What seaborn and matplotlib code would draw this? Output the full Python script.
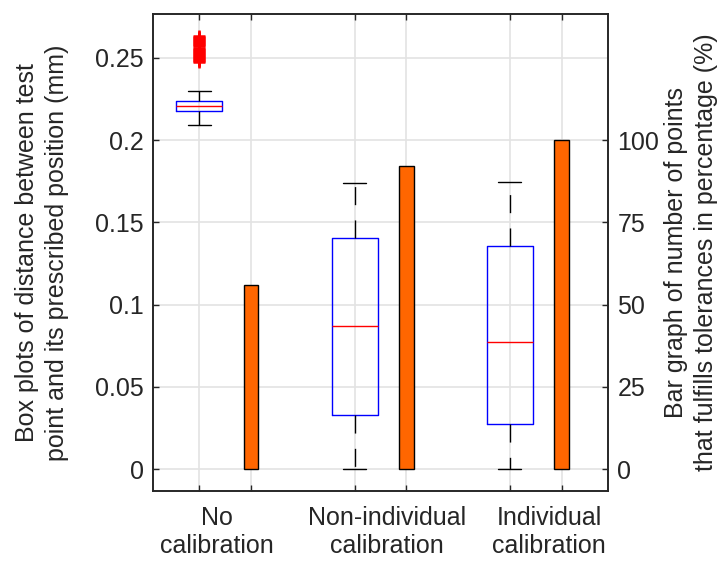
import matplotlib
matplotlib.use("Agg")
import matplotlib.pyplot as plt
from matplotlib.ticker import FixedLocator, FixedFormatter, NullFormatter, FuncFormatter
import pandas as pd
import seaborn as sns

# %% data

categories = ["No\ncalibration", "Non-individual\ncalibration", "Individual\ncalibration"]

# box plot statistics, distance test point -> prescribed position (mm)
whisker_lo = [0.2095, 0.0, 0.0]
quartile_1 = [0.2176, 0.0327, 0.0276]
medians = [0.2205, 0.0869, 0.0771]
quartile_3 = [0.2241, 0.1403, 0.1358]
whisker_hi = [0.2296, 0.1740, 0.1747]

# outliers of the "No calibration" box
outliers_no_cal = [0.2477, 0.2482, 0.2489, 0.2494, 0.2501, 0.2508, 0.2513, 0.2519,
                   0.2526, 0.2531, 0.2538, 0.2544, 0.2549, 0.2557, 0.2563, 0.2570,
                   0.2576, 0.2584, 0.2590, 0.2596, 0.2603, 0.2607, 0.2614, 0.2619,
                   0.2626, 0.2632]

# share of points within tolerance (%)
pct_in_tolerance = [56, 92, 100]

# %% layout

box_pos = [1, 4, 7]
bar_pos = [2, 5, 8]
label_pos = [1.34, 4.63, 7.76]

sns.set_style("ticks")
plt.rcParams["font.family"] = ["Liberation Sans", "DejaVu Sans"]
dark = "#262626"
fs = 18

fig = plt.figure(figsize=(7.21, 5.63), dpi=100)
ax = fig.add_axes([0.2126, 0.1284, 0.6302, 0.8467])
ax2 = ax.twinx()

# boxes
stats = []
for i in range(len(categories)):
    stats.append(dict(med=medians[i], q1=quartile_1[i], q3=quartile_3[i],
                      whislo=whisker_lo[i], whishi=whisker_hi[i],
                      fliers=outliers_no_cal if i == 0 else [], label=""))

ax.bxp(stats, positions=box_pos, widths=0.89, capwidths=0.44, showfliers=True,
       manage_ticks=False,
       boxprops=dict(color="blue", lw=1.0),
       medianprops=dict(color="red", lw=1.0),
       whiskerprops=dict(color="black", lw=1.0, linestyle=(0, (13, 11))),
       capprops=dict(color="black", lw=1.0),
       flierprops=dict(marker="+", markeredgecolor="red", markersize=8,
                       markeredgewidth=1.8, linestyle="none"))

# bars on the right axis
df_bars = pd.DataFrame({"pos": bar_pos, "pct": pct_in_tolerance})
sns.barplot(data=df_bars, x="pos", y="pct", native_scale=True, orient="x",
            width=0.277 / 3, color="#ff6600", saturation=1,
            edgecolor="black", linewidth=1.0, errorbar=None, ax=ax2)

# limits
ax.set_xlim(0.111, 8.889)
ax.set_ylim(-0.0132, 0.2767)
ax2.set_ylim(-0.0132 * 500, 0.2767 * 500)

# ticks
ax.xaxis.set_major_locator(FixedLocator(box_pos + bar_pos))
ax.xaxis.set_major_formatter(NullFormatter())
ax.xaxis.set_minor_locator(FixedLocator(label_pos))
ax.xaxis.set_minor_formatter(FixedFormatter(categories))
ax.set_yticks([0, 0.05, 0.1, 0.15, 0.2, 0.25])
ax.yaxis.set_major_formatter(FuncFormatter(lambda v, p: f"{v:g}"))
ax2.set_yticks([0, 25, 50, 75, 100])

ax.tick_params(axis="both", which="major", direction="in", length=4.3, width=1,
               color=dark, labelcolor=dark, labelsize=fs, pad=7,
               top=True, bottom=True, left=True, right=False)
ax.tick_params(axis="x", which="minor", length=0, labelsize=fs, labelcolor=dark, pad=11)
ax2.tick_params(axis="y", direction="in", length=4.3, width=1, color=dark,
                labelcolor=dark, labelsize=fs, pad=7, left=False, right=True)

ax.grid(True, which="major", color="#e3e3e3", lw=1.2)
ax.set_axisbelow(True)

for a in (ax, ax2):
    for s in a.spines.values():
        s.set_color(dark)
        s.set_linewidth(1.2)

ax.set_xlabel("")
ax2.set_xlabel("")
ax.set_ylabel("Box plots of distance between test\npoint and its prescribed position (mm)",
              fontsize=fs, color=dark, linespacing=1.3)
ax2.set_ylabel("Bar graph of number of points\nthat fulfills tolerances in percentage (%)",
               fontsize=fs, color=dark, linespacing=1.3)
ax.yaxis.set_label_coords(-0.186, 0.5)
ax2.yaxis.set_label_coords(1.124, 0.5)

fig.savefig("out.png", dpi=100)
